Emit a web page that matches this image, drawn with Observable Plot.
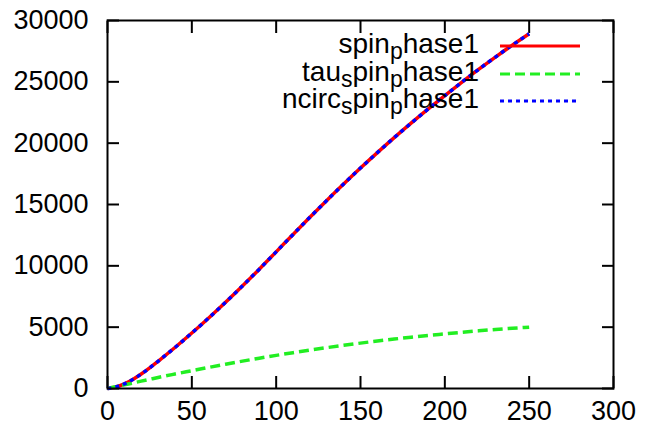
<!DOCTYPE html>
<html><head><meta charset="utf-8">
<script src="https://cdn.jsdelivr.net/npm/d3@7"></script>
<script src="https://cdn.jsdelivr.net/npm/@observablehq/plot@0.6"></script>
<style>
html,body{margin:0;padding:0;background:#fff}
#chart svg{font-family:"Liberation Sans",Arial,Helvetica,sans-serif;display:block}
</style>
</head><body><div id="chart"></div>
<script>
// ---- data ----
const xValues = [0,5,10,15,20,25,30,40,50,60,70,80,90,100,110,120,130,140,150,160,170,180,190,200,210,220,230,240,250];
const spinPhase1 = [0,120,380,740,1180,1680,2220,3340,4520,5750,7030,8360,9730,11140,12560,13960,15330,16670,17970,19230,20450,21630,22770,23880,24960,26010,27020,27990,28920];
const tauSpinPhase1 = [0,150,300,450,600,750,900,1180,1450,1720,1980,2230,2470,2700,2920,3130,3330,3520,3700,3870,4030,4180,4320,4450,4580,4700,4810,4910,5000];
const ncircSpinPhase1 = [0,120,380,740,1180,1680,2220,3340,4520,5750,7030,8360,9730,11140,12560,13960,15330,16670,17970,19230,20450,21630,22770,23880,24960,26010,27020,27990,28920];
const seriesNames = ["spin_phase1","tau_spin_phase1","ncirc_spin_phase1"];
const xTicks = [0,50,100,150,200,250,300];
const yTicks = [0,5000,10000,15000,20000,25000,30000];

const seriesColors = ["#ff0000","#22ee22","#0000ff"];
const seriesDash = [null,"10,5","4,4"];
const seriesValues = [spinPhase1, tauSpinPhase1, ncircSpinPhase1];

const rowsFor = vals => xValues.map((x,i)=>({x, y: vals[i]}));

const mL=107, mR=33, mT=20, mB=41, W=646, H=429;
const fmt = d => String(d);

const plot = Plot.plot({
  width: W, height: H,
  marginLeft: mL, marginRight: mR, marginTop: mT, marginBottom: mB,
  style: {fontSize: "27px", fontFamily: '"Liberation Sans",Arial,Helvetica,sans-serif', color: "#000", background: "#fff", overflow: "visible"},
  x: {domain: [0,300]},
  y: {domain: [0,30000]},
  marks: [
    Plot.axisX({ticks: xTicks, tickSize: -12, tickPadding: 24, tickFormat: fmt, label: null, strokeWidth: 2}),
    Plot.axisX({anchor: "top", ticks: xTicks, tickSize: -12, tickFormat: () => "", label: null, strokeWidth: 2}),
    Plot.axisY({ticks: yTicks, tickSize: -12, tickPadding: 31, tickFormat: fmt, label: null, strokeWidth: 2}),
    Plot.axisY({anchor: "right", ticks: yTicks, tickSize: -12, tickFormat: () => "", label: null, strokeWidth: 2}),
    ...seriesValues.map((vals, k) => Plot.line(rowsFor(vals), {
      x: "x", y: "y", stroke: seriesColors[k], strokeWidth: 3.5,
      strokeDasharray: seriesDash[k], strokeLinecap: "butt", strokeLinejoin: "round", curve: "monotone-x"
    })),
    Plot.frame({stroke: "#000", strokeWidth: 2})
  ]
});
document.getElementById("chart").appendChild(plot);

// ---- key (gnuplot-style, inside the top right of the frame) ----
const svg = d3.select(plot);
const key = svg.append("g").attr("class","key");
const frameRight = W - mR;
const textEnd = frameRight - 134;
const sw1 = frameRight - 113, sw2 = frameRight - 33;
const baselines = [mT + 33, mT + 61, mT + 88];
const subShift = 6;
seriesNames.forEach((name, k) => {
  // gnuplot enhanced text: "_" makes the next character a subscript
  const segs = [];
  let buf = "";
  for (let i = 0; i < name.length; i++) {
    if (name[i] === "_" && i + 1 < name.length) {
      if (buf) segs.push({text: buf, sub: false});
      buf = "";
      segs.push({text: name[i+1], sub: true});
      i++;
    } else buf += name[i];
  }
  if (buf) segs.push({text: buf, sub: false});
  const t = key.append("text")
    .attr("x", textEnd).attr("y", baselines[k])
    .attr("text-anchor", "end")
    .attr("font-size", 28).attr("fill", "#000");
  let prevSub = false;
  segs.forEach(s => {
    const dy = (s.sub ? subShift : 0) - (prevSub ? subShift : 0);
    const ts = t.append("tspan").text(s.text);
    if (dy) ts.attr("dy", dy);
    if (s.sub) ts.attr("font-size", 23);
    prevSub = s.sub;
  });
  key.append("line")
    .attr("x1", sw1).attr("x2", sw2)
    .attr("y1", baselines[k] - 7).attr("y2", baselines[k] - 7)
    .attr("stroke", seriesColors[k]).attr("stroke-width", 3)
    .attr("stroke-dasharray", seriesDash[k]);
});
</script>
</body></html>
